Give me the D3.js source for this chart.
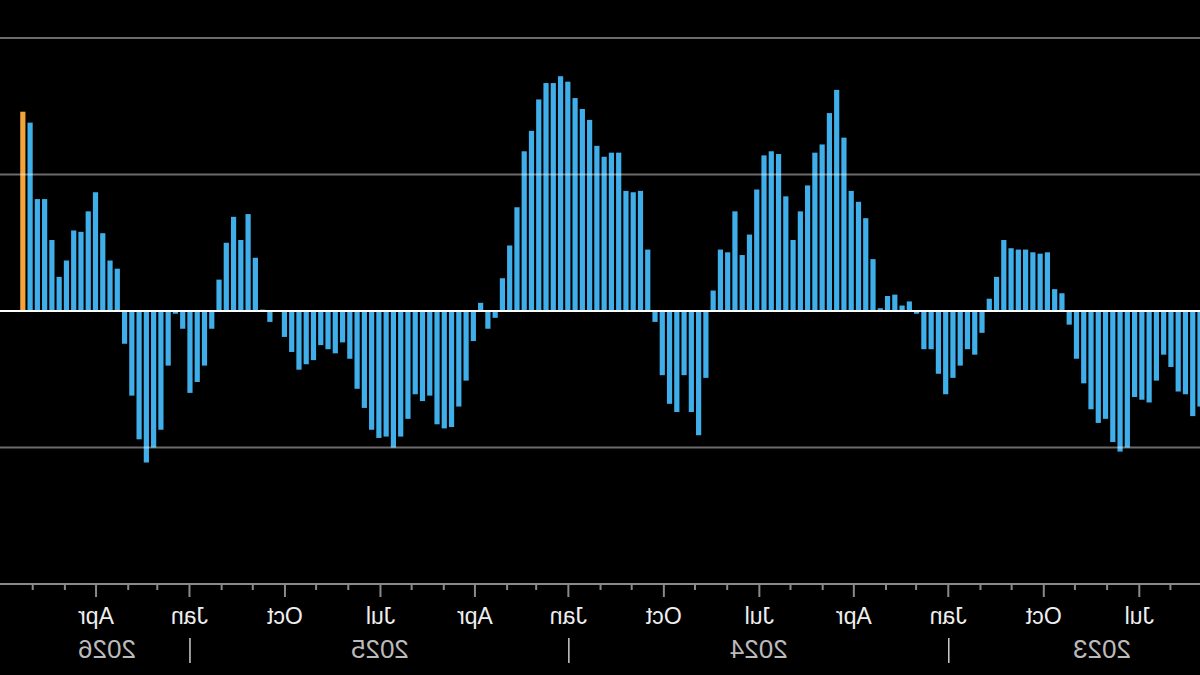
<!DOCTYPE html>
<html>
<head>
<meta charset="utf-8">
<script src="https://cdn.jsdelivr.net/npm/d3@7"></script>
<style>
  body { margin: 0; background: #000; }
</style>
</head>
<body>
<div id="container"></div>
<script>
let w = 1200;
let h = 675;

let firstWeek = "2023-05-04";
let values = [
  -0.70, -0.77, -0.61, -0.59, -0.41, -0.32, -0.51, -0.67, -0.65, -0.63,
  -1.00, -1.03, -0.96, -0.79, -0.82, -0.72, -0.53, -0.35, -0.10, 0.13,
  0.16, 0.43, 0.42, 0.43, 0.45, 0.45, 0.46, 0.52, 0.25, 0.09,
  -0.16, -0.32, -0.28, -0.40, -0.49, -0.61, -0.46, -0.28, -0.28, -0.02,
  0.07, 0.04, 0.12, 0.11, 0.02, 0.38, 0.68, 0.80, 0.88, 1.27,
  1.62, 1.45, 1.22, 1.16, 0.92, 0.73, 0.52, 0.84, 1.15, 1.17,
  1.14, 0.89, 0.56, 0.41, 0.73, 0.43, 0.45, 0.15, -0.49, -0.91,
  -0.74, -0.47, -0.74, -0.68, -0.47, -0.08, 0.45, 0.88, 0.87, 0.88,
  1.16, 1.16, 1.13, 1.21, 1.40, 1.48, 1.56, 1.68, 1.72, 1.67,
  1.67, 1.55, 1.32, 1.17, 0.76, 0.48, 0.24, -0.05, -0.13, 0.06,
  -0.22, -0.51, -0.70, -0.85, -0.86, -0.83, -0.62, -0.66, -0.61, -0.79,
  -0.92, -1.00, -0.92, -0.93, -0.87, -0.71, -0.57, -0.35, -0.23, -0.31,
  -0.28, -0.25, -0.36, -0.39, -0.43, -0.30, -0.19, 0.00, -0.08, 0.01,
  0.39, 0.71, 0.52, 0.69, 0.50, 0.23, -0.13, -0.40, -0.52, -0.60,
  -0.13, -0.02, -0.40, -0.87, -1.00, -1.11, -0.94, -0.62, -0.24, 0.31,
  0.37, 0.57, 0.87, 0.73, 0.58, 0.59, 0.37, 0.25, 0.52, 0.82,
  0.82, 1.38, 1.46
];
let gridValues = [-1, 1, 2];
let monthLabels = {0: "Jan", 3: "Apr", 6: "Jul", 9: "Oct"};
let years = ["2023", "2024", "2025", "2026"];

let parse = d3.timeParse("%Y-%m-%d");
let weeks = values.map((v, i) => ({date: d3.timeDay.offset(parse(firstWeek), i * 7), value: v}));

let viz = d3.select("#container")
  .append("svg")
    .attr("width", w)
    .attr("height", h)
    .style("background-color", "#000")
    .style("display", "block")
;

// the whole picture is drawn mirrored
let chart = viz.append("g")
    .attr("transform", "translate(" + w + ",0) scale(-1,1)")
;

let x = d3.scaleTime()
    .domain([parse("2023-05-04"), parse("2026-07-03")])
    .range([0, w]);
let y = d3.scaleLinear()
    .domain([-2, 2])
    .range([584, 38]);

chart.selectAll(".bar").data(weeks).enter()
  .append("rect")
    .attr("class", "bar")
    .attr("x", d => x(d.date) - 2.6)
    .attr("width", 5.2)
    .attr("y", d => y(Math.max(0, d.value)))
    .attr("height", d => Math.abs(y(d.value) - y(0)))
    .attr("fill", (d, i) => i == weeks.length - 1 ? "#F2A33A" : "#3FAEE9")
;

chart.selectAll(".grid").data(gridValues).enter()
  .append("line")
    .attr("class", "grid")
    .attr("x1", 0)
    .attr("x2", w)
    .attr("y1", d => y(d))
    .attr("y2", d => y(d))
    .attr("stroke", "rgba(255,255,255,0.42)")
    .attr("stroke-width", 2)
;

chart.append("line")
    .attr("x1", 0)
    .attr("x2", w)
    .attr("y1", y(0))
    .attr("y2", y(0))
    .attr("stroke", "#fff")
    .attr("stroke-width", 2)
;

let months = d3.timeMonth.range(x.domain()[0], x.domain()[1]).filter(d => x(d) > 5 && x(d) < w - 8);

let axis = d3.axisBottom(x)
    .tickValues(months)
    .tickSize(6)
    .tickPadding(18)
    .tickFormat(d => monthLabels[d.getMonth()] || "");

let axisG = chart.append("g")
    .attr("transform", "translate(0," + y(-2) + ")")
    .call(axis)
;
axisG.select(".domain").remove();
axisG.selectAll(".tick line")
    .attr("stroke", "#8a8a8a")
    .attr("stroke-width", 2)
    .attr("y2", d => d.getMonth() % 3 == 0 ? 13 : 6)
;
axisG.selectAll(".tick text")
    .attr("fill", "#eee")
    .style("font-family", "'Liberation Sans', Arial, sans-serif")
    .style("font-size", "23px")
;

chart.append("line")
    .attr("x1", 0)
    .attr("x2", w)
    .attr("y1", y(-2))
    .attr("y2", y(-2))
    .attr("stroke", "#8a8a8a")
    .attr("stroke-width", 2)
;

chart.selectAll(".yearsep").data(years.slice(1)).enter()
  .append("line")
    .attr("class", "yearsep")
    .attr("x1", d => x(parse(d + "-01-01")))
    .attr("x2", d => x(parse(d + "-01-01")))
    .attr("y1", 638)
    .attr("y2", 663)
    .attr("stroke", "#ccc")
    .attr("stroke-width", 1.5)
;

chart.selectAll(".year").data(years).enter()
  .append("text")
    .attr("class", "year")
    .attr("x", d => Math.max(98, Math.min(1093, x(parse(d + "-07-02")))))
    .attr("y", 658)
    .attr("text-anchor", "middle")
    .attr("fill", "#bbb")
    .style("font-family", "'Liberation Sans', Arial, sans-serif")
    .style("font-size", "26px")
    .text(d => d)
;
</script>
</body>
</html>
